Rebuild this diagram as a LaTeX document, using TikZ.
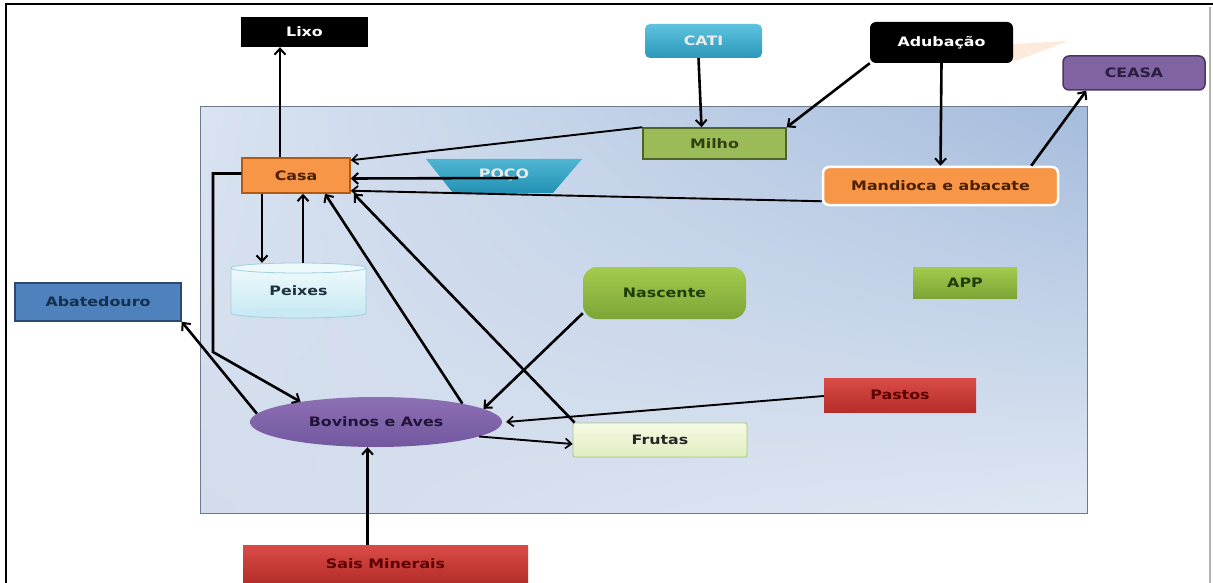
\documentclass[tikz,border=0pt]{standalone}
\usepackage{fontspec}
\newfontfamily\lbl{DejaVu Sans}[FakeStretch=1.22]
\usetikzlibrary{arrows.meta,shapes.geometric,calc,shadings}
\definecolor{catiT}{HTML}{5EC3DE}\definecolor{catiB}{HTML}{2B97BA}
\definecolor{pocoT}{HTML}{4FB6D2}\definecolor{pocoB}{HTML}{2391B4}
\definecolor{ceasaF}{HTML}{8064A2}\definecolor{ceasaD}{HTML}{4A3566}\definecolor{ceasaX}{HTML}{2B1D40}
\definecolor{milhoF}{HTML}{9BBB59}\definecolor{milhoD}{HTML}{4F6228}\definecolor{milhoX}{HTML}{2F3F10}
\definecolor{orF}{HTML}{F79646}\definecolor{orD}{HTML}{B05A14}\definecolor{orX}{HTML}{4A2000}
\definecolor{pxT}{HTML}{EEF9FC}\definecolor{pxB}{HTML}{C9EAF4}\definecolor{pxD}{HTML}{9FCFE0}\definecolor{pxX}{HTML}{1E3340}
\definecolor{abF}{HTML}{4F81BD}\definecolor{abD}{HTML}{2A4A75}\definecolor{abX}{HTML}{14304F}
\definecolor{grT}{HTML}{A3CB4E}\definecolor{grB}{HTML}{7DA536}\definecolor{grX}{HTML}{1F3D08}
\definecolor{rdT}{HTML}{DA4B46}\definecolor{rdB}{HTML}{B52E2A}\definecolor{rdX}{HTML}{5C0000}
\definecolor{frT}{HTML}{F6FAE4}\definecolor{frB}{HTML}{E0EDC0}\definecolor{frD}{HTML}{A9C47A}
\definecolor{bvT}{HTML}{8D6FB3}\definecolor{bvB}{HTML}{7258A0}\definecolor{bvX}{HTML}{22133A}
\definecolor{pnUL}{HTML}{D9E3F1}\definecolor{pnUR}{HTML}{A5BCDC}\definecolor{pnLL}{HTML}{D2DCEC}\definecolor{pnLR}{HTML}{DFE7F3}
\begin{document}
\begin{tikzpicture}[x=1pt,y=-1pt,
  box/.style={rectangle, inner sep=0pt, font=\lbl\bfseries\fontsize{13}{15}\selectfont},
  arr/.style={line width=2.6pt, -{Straight Barb[length=6pt,width=11pt,line width=2pt]}},
  tarr/.style={line width=1.9pt, -{Straight Barb[length=6pt,width=10pt,line width=1.7pt]}},
]
\useasboundingbox (0,0) rectangle (1213,583);
\fill[white] (0,0) rectangle (1213,583);
% outer frame
\draw[black, line width=2.5pt] (6,583) -- (6,4) -- (1213,4);
\draw[black!30, line width=1.5pt] (1210,7) -- (1210,583);
% panel
\shade[upper left=pnUL, upper right=pnUR, lower left=pnLL, lower right=pnLR] (200,107) rectangle (1087,513);
\draw[black!35!pnUR, line width=1pt] (200,107) rectangle (1087,513);
% faint wedge beside Adubacao
\fill[orF!20] (1013,44) -- (1068,41) -- (1013,62) -- cycle;

% nodes
\node[box, fill=black, text=white, minimum width=127, minimum height=30] (lixo) at (304.5,32) {Lixo};
\node[box, rounded corners=5pt, top color=catiT, bottom color=catiB, text=white!92!black, minimum width=117, minimum height=34] (cati) at (703.5,41) {CATI};
\node[box, rounded corners=6pt, fill=black, text=white, minimum width=143, minimum height=41] (adub) at (941.5,42.5) {Adubação};
\node[box, rounded corners=6pt, fill=ceasaF, draw=ceasaD, line width=1.5pt, text=ceasaX, minimum width=142, minimum height=34] (ceasa) at (1134,73) {CEASA};
\node[box, fill=milhoF, draw=milhoD, line width=1.5pt, text=milhoX, minimum width=143, minimum height=31] (milho) at (714.5,143.5) {Milho};
% POCO trapezoid
\shade[top color=pocoT, bottom color=pocoB] (426,159) -- (582,159) -- (553,193) -- (453,193) -- cycle;
\node[box, text=white!92!black, minimum width=156, minimum height=34] (poco) at (504,175) {POÇO};
\node[box, rounded corners=6pt, fill=orF, draw=white, line width=2.5pt, text=orX, minimum width=235, minimum height=38] (mand) at (940.5,186) {Mandioca e abacate};
\node[box, fill=orF, draw=orD, line width=1.5pt, text=orX, minimum width=108, minimum height=35] (casa) at (296,175.5) {Casa};
% Peixes cylinder
\shade[top color=pxT, bottom color=pxB] (231,268) rectangle (366,313);
\fill[pxB] (298.5,313) ellipse [x radius=67.5, y radius=5];
\fill[pxT] (298.5,268) ellipse [x radius=67.5, y radius=5];
\draw[pxD, line width=0.8pt] (231,268) -- (231,313) (366,268) -- (366,313)
  (298.5,268) ellipse [x radius=67.5, y radius=5];
\draw[pxD, line width=0.8pt] (231,313) arc[start angle=180, end angle=360, x radius=67.5, y radius=-5];
\node[box, text=pxX, minimum width=135, minimum height=55] (peixes) at (298.5,290.5) {Peixes};
\node[box, fill=abF, draw=abD, line width=1.5pt, text=abX, minimum width=166, minimum height=38] (abat) at (98,302) {Abatedouro};
\node[box, rounded corners=14pt, top color=grT, bottom color=grB, text=grX, minimum width=163, minimum height=52] (nasc) at (664.5,293) {Nascente};
\node[box, top color=grT, bottom color=grB, text=grX, minimum width=104, minimum height=31] (app) at (965,282.5) {APP};
\node[box, top color=rdT, bottom color=rdB, text=rdX, minimum width=152, minimum height=34] (pastos) at (900,395) {Pastos};
\node[ellipse, inner sep=0pt, font=\lbl\bfseries\fontsize{13}{15}\selectfont, top color=bvT, bottom color=bvB, text=bvX, minimum width=252, minimum height=50] (bov) at (376,422) {Bovinos e Aves};
\node[box, rounded corners=2pt, top color=frT, bottom color=frB, draw=frD, line width=0.8pt, text=black!85, minimum width=174, minimum height=34] (frutas) at (660,440) {Frutas};
\node[box, top color=rdT, bottom color=rdB, text=rdX, minimum width=285, minimum height=37] (sais) at (385.5,563.5) {Sais Minerais};

% connectors
\draw[arr] ([xshift=-16pt]casa.north) -- ([xshift=-16pt]casa.north |- lixo.south);
\draw[arr] ([xshift=-5pt]cati.south) -- ([xshift=-13pt]milho.north);
\draw[arr] (adub.south west) -- (milho.north east);
\draw[arr] (adub.south) -- (mand.north);
\draw[arr] ([xshift=-28pt]mand.north east) -- ([xshift=24pt]ceasa.south west);
\draw[tarr] (milho.north west) -- ([yshift=-3pt]casa.north east);
\draw[arr] ([xshift=-64pt,yshift=-3pt]poco.east) -- ([yshift=-3pt]casa.east);
\draw[tarr] ([yshift=5pt]mand.south west) -- ([yshift=3pt]casa.south east);
\draw[arr] ([xshift=-34pt]casa.south) -- ([xshift=-34pt]casa.south |- peixes.north);
\draw[arr] ([xshift=7pt]casa.south |- peixes.north) -- ([xshift=7pt]casa.south);
\draw[arr] (bov.12) -- ([xshift=29pt]casa.south);
\draw[arr] ([xshift=2pt]frutas.north west) -- ([xshift=3pt]casa.south east);
\coordinate (bend) at (213,352);
\draw[arr] ([yshift=2pt]casa.west) -| (bend) -- (bov.165);
\draw[arr] (bov.176) -- (abat.south east);
\draw[arr] ([yshift=6pt]nasc.south west) -- (bov.7);
\draw[tarr] ([yshift=-1pt]pastos.west) -- ([xshift=4pt]bov.east);
\draw[tarr] (bov.-8) -- ([yshift=-4pt]frutas.west);
\draw[arr] ([xshift=-18pt]sais.north) -- ([xshift=-18pt]sais.north |- bov.south);
\end{tikzpicture}
\end{document}
